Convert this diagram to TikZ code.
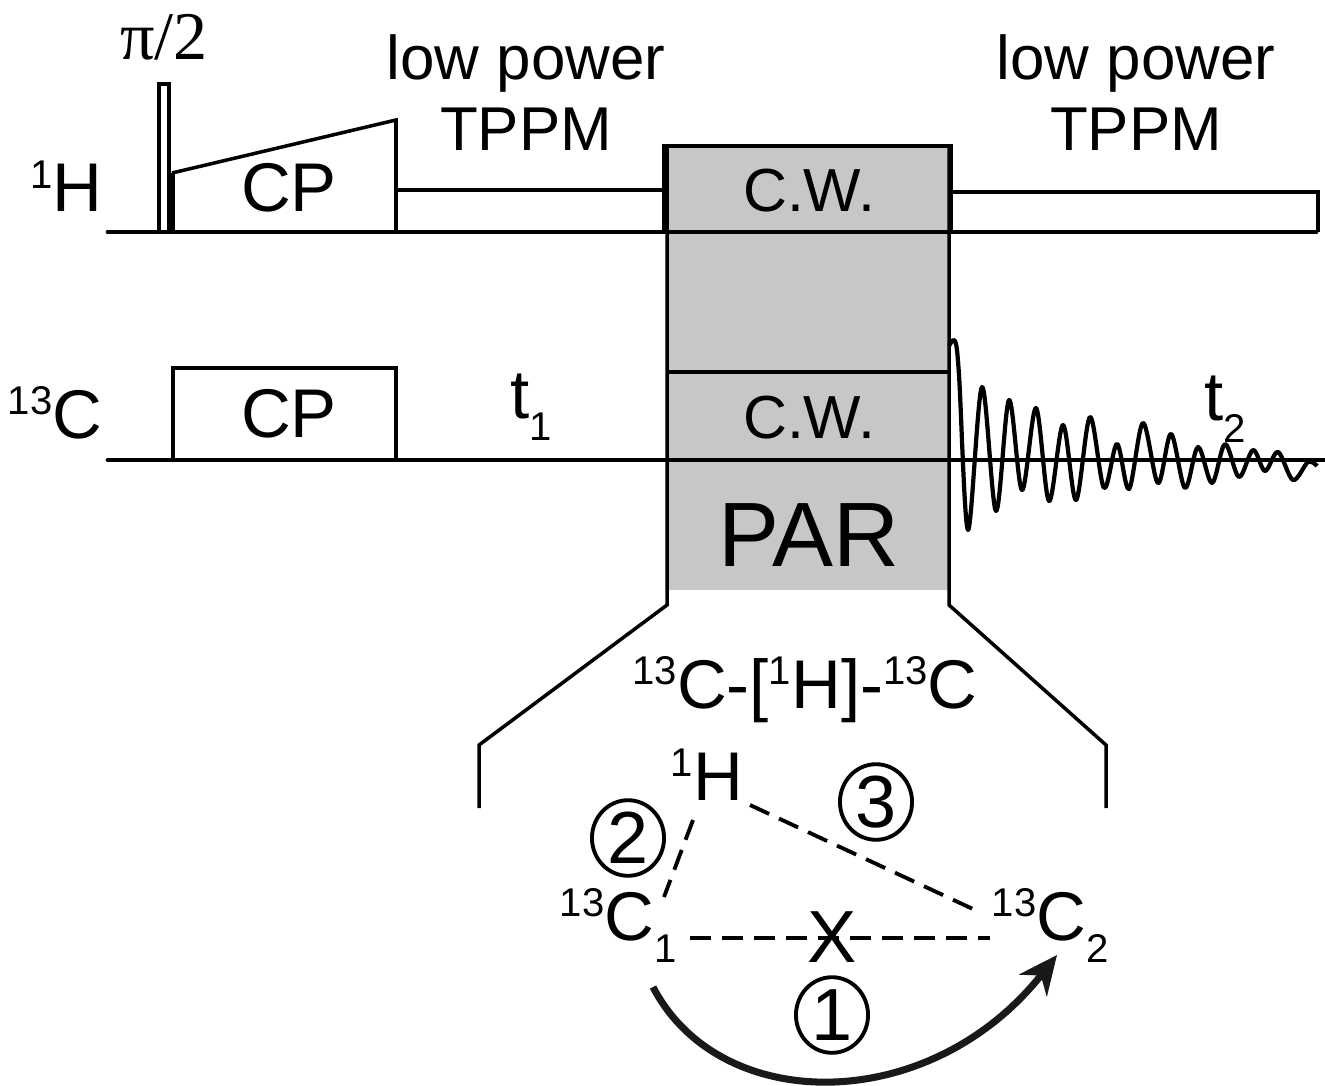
\documentclass[tikz,border=0pt]{standalone}
\usepackage{fontspec}
\setmainfont{Liberation Sans}
\newfontfamily\seriffont{Liberation Serif}
\usetikzlibrary{arrows.meta,shapes.geometric}
\newcommand{\bigtxt}{\fontsize{17.6}{20}\selectfont}
\newcommand{\hugetxt}{\fontsize{19.6}{22}\selectfont}
\newcommand{\smalltxt}{\fontsize{11.4}{13}\selectfont}
\newcommand{\up}[1]{\raisebox{6.6pt}{\smalltxt #1}}
\newcommand{\dn}[1]{\raisebox{-6.3pt}{\smalltxt #1}}
\tikzset{
    lbl/.style={inner sep=0pt, anchor=base, font=\hugetxt},
    pulse/.style={line width=1pt, line join=miter},
    axisline/.style={line width=1.35pt, line cap=round},
    dashline/.style={line width=1.1pt, dash pattern=on 6pt off 3.1pt},
    numcirc/.style={draw, ellipse, line width=1.1pt, minimum width=20.5pt, minimum height=21.5pt, inner sep=-2pt, font=\fontsize{21}{23}\selectfont}
}
\definecolor{pargray}{gray}{0.78}
\begin{document}
\begin{tikzpicture}[x=0.01cm, y=-0.01cm]
    \useasboundingbox (0,0) rectangle (1325,1085);
    % Gray block
    \fill[pargray] (667,146) rectangle (949,590);
    % 1H channel
    \draw[pulse] (159,232) -- (159,84) -- (169,84) -- (169,232);
    \draw[line width=1.6pt] (172,173) -- (172,232);
    \draw[pulse] (172,173) -- (396,120) -- (396,232);
    \draw[pulse] (396,190) -- (664,190);
    \draw[pulse] (664,232) -- (664,146) -- (951,146) -- (951,232);
    \draw[pulse] (951,192) -- (1318,192) -- (1318,232);
    \draw[axisline] (108,232) -- (1316,232);
    % 13C channel
    \draw[pulse] (173,460) -- (173,368) -- (396,368) -- (396,460);
    \draw[pulse] (667,372) -- (949,372);
    \draw[axisline] (108,460) -- (1325,460);
    % FID
    \draw[line width=1.2pt, line join=round] plot[smooth, tension=0.55] coordinates {
        (949,346) (955,341) (959,375) (968,530) (982,387) (996,511) (1009,400) (1022,490)
        (1036,408) (1049,501) (1063,425) (1076,500) (1090,417) (1104,488)
        (1117,444) (1129,489) (1143,423) (1158,483) (1171,434) (1185,488)
        (1198,447) (1212,483) (1225,444) (1239,477) (1253,450) (1265,471)
        (1278,452) (1293,480) (1308,462) (1317,466)};
    % Expansion lines
    \draw[pulse] (479,808) -- (479,745) -- (667,605) -- (667,146);
    \draw[pulse] (1106,808) -- (1106,745) -- (949,605) -- (949,146);
    % Channel labels
    \node[lbl, anchor=base east] (hlabel) at (103,212) {\up{1}H};
    \node[lbl, anchor=base east] (clabel) at (103,438) {\up{13}C};
    \node[inner sep=0pt, anchor=base, font=\seriffont\fontsize{19.4}{21}\selectfont] (flip) at (164,60) {π/2};
    \node[lbl] (hcp) at (289,211) {CP};
    \node[lbl] (ccp) at (289,437) {CP};
    \node[lbl, font=\bigtxt] (lowa) at (526,80) {low power};
    \node[lbl, font=\bigtxt] (tppma) at (526,151) {TPPM};
    \node[lbl, font=\bigtxt] (lowb) at (1136,80) {low power};
    \node[lbl, font=\bigtxt] (tppmb) at (1136,151) {TPPM};
    \node[lbl, font=\fontsize{17.3}{19}\selectfont] (hcw) at (809,211) {C.W.};
    \node[lbl, font=\fontsize{17.3}{19}\selectfont] (ccw) at (809,438) {C.W.};
    \node[lbl, anchor=base west] (tone) at (510,418) {t\dn{1}};
    \node[lbl, anchor=base west] (ttwo) at (1204,420) {t\dn{2}};
    \node[lbl, font=\fontsize{26}{28}\selectfont] (par) at (809,566) {PAR};
    \node[lbl] (transfer) at (805,708) {\up{13}C-[\up{1}H]-\up{13}C};
    % Spin triangle
    \node[lbl, anchor=base west] (h) at (670,800) {\up{1}H};
    \node[lbl, anchor=base west] (cone) at (559,940) {\up{13}C\dn{1}};
    \node[lbl, anchor=base west] (ctwo) at (991,940) {\up{13}C\dn{2}};
    \coordinate (ha) at (693,820);
    \coordinate (ca) at (664,897);
    \coordinate (hb) at (750,805);
    \coordinate (cb) at (975,910);
    \coordinate (cc) at (690,938);
    \coordinate (cd) at (990,938);
    \coordinate (ce) at (653,987);
    \coordinate (cf) at (1057,955);
    \draw[dashline] (ha) -- (ca);
    \draw[dashline] (hb) -- (cb);
    \draw[dashline] (cc) -- (cd);
    \node[lbl, font=\fontsize{21}{23}\selectfont] (cross) at (832,962) {X};
    \draw[line width=2pt, -{Stealth[length=11pt,width=10pt]}, black!90] (ce) .. controls (720,1116) and (930,1116) .. (cf);
    \node[numcirc] (one) at (832,1015) {1};
    \node[numcirc] (two) at (628,838) {2};
    \node[numcirc] (three) at (876,802) {3};
\end{tikzpicture}
\end{document}
